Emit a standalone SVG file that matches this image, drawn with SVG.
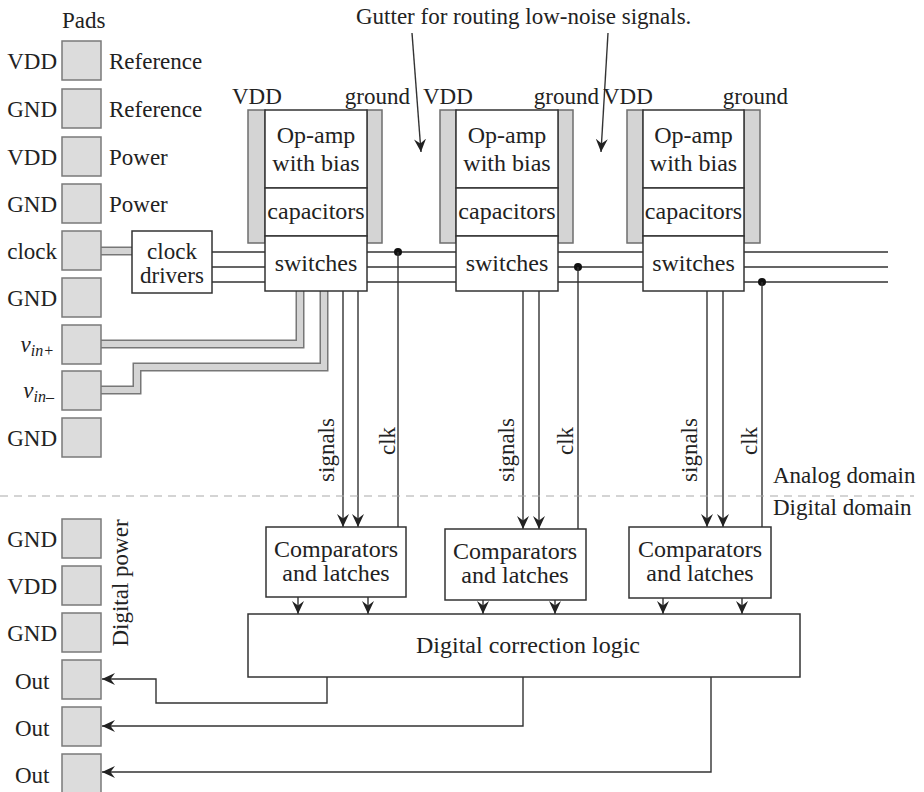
<svg xmlns="http://www.w3.org/2000/svg" width="924" height="792" viewBox="0 0 924 792">
<defs>
<style>
text{font-family:"Liberation Serif","Times New Roman",serif;font-size:23px;fill:#222}
.m{font-size:24px}
.pad{fill:#dcdcdc;stroke:#7a7a7a;stroke-width:1.5}
.bar{fill:#d4d4d4;stroke:#6e6e6e;stroke-width:1.5}
.box{fill:#fff;stroke:#333;stroke-width:1.5}
.ln{fill:none;stroke:#333;stroke-width:1.4}
.busO{fill:none;stroke:#777;stroke-width:9;stroke-linejoin:miter}
.busI{fill:none;stroke:#d4d4d4;stroke-width:6;stroke-linejoin:miter}
.arr{marker-end:url(#ah)}
</style>
<marker id="ah" markerUnits="userSpaceOnUse" markerWidth="16" markerHeight="14" refX="13" refY="7" orient="auto">
<path d="M0,1 L13,7 L0,13 L4.5,7 z" fill="#222"/>
</marker>
</defs>
<rect width="924" height="792" fill="#fff"/>

<!-- connectors -->
<g id="connectors">
  <!-- clock lines -->
  <path class="ln" d="M212,252 H888 M212,267 H888 M212,282 H888"/>
  <!-- pad to clock drivers bus -->
  <path class="busO" d="M101,251 H132"/>
  <path class="busI" d="M101,251 H132"/>
  <!-- vin buses -->
  <path class="busO" d="M101,344 H300 V291"/>
  <path class="busI" d="M101,344 H300 V291"/>
  <path class="busO" d="M101,390 H137 V367 H324 V291"/>
  <path class="busI" d="M101,390 H137 V367 H324 V291"/>
  <!-- clk taps -->
  <circle cx="398" cy="252" r="4" fill="#111"/>
  <circle cx="578" cy="267" r="4" fill="#111"/>
  <circle cx="762" cy="282" r="4" fill="#111"/>
  <path class="ln" d="M398,252 V527 M578,267 V529 M762,282 V527"/>
  <!-- signals -->
  <path class="ln arr" d="M343,291 V527"/>
  <path class="ln arr" d="M358,291 V527"/>
  <path class="ln arr" d="M523,291 V529"/>
  <path class="ln arr" d="M539,291 V529"/>
  <path class="ln arr" d="M707,291 V527"/>
  <path class="ln arr" d="M723,291 V527"/>
  <!-- comparators to DCL -->
  <path class="ln arr" d="M298,597 V614"/>
  <path class="ln arr" d="M368,597 V614"/>
  <path class="ln arr" d="M483,600 V614"/>
  <path class="ln arr" d="M555,600 V614"/>
  <path class="ln arr" d="M663,598 V614"/>
  <path class="ln arr" d="M742,598 V614"/>
  <!-- outputs -->
  <path class="ln arr" d="M327,677 V703 H156 V679 H102"/>
  <path class="ln arr" d="M523,677 V726 H102"/>
  <path class="ln arr" d="M711,677 V772 H102"/>
  <!-- gutter arrows -->
  <path class="ln arr" d="M412,33 L421,152"/>
  <path class="ln arr" d="M608,33 L601,152"/>
  <!-- domain divider -->
  <path d="M0,496 H914" fill="none" stroke="#aaa" stroke-width="1.2" stroke-dasharray="8 6"/>
</g>

<!-- labels -->
<g id="labels">
  <text x="62" y="28">Pads</text>
  <text x="356" y="24">Gutter for routing low-noise signals.</text>
  <text x="773" y="483">Analog domain</text>
  <text x="773" y="515">Digital domain</text>
  <text transform="translate(128,583) rotate(-90)" text-anchor="middle">Digital power</text>
  <text transform="translate(334,450) rotate(-90)" text-anchor="middle">signals</text>
  <text transform="translate(395,441) rotate(-90)" text-anchor="middle">clk</text>
  <text transform="translate(514,450) rotate(-90)" text-anchor="middle">signals</text>
  <text transform="translate(573,441) rotate(-90)" text-anchor="middle">clk</text>
  <text transform="translate(697,450) rotate(-90)" text-anchor="middle">signals</text>
  <text transform="translate(757,441) rotate(-90)" text-anchor="middle">clk</text>
</g>

<!-- pads -->
<g id="pad-vdd-ref"><rect class="pad" x="62" y="41" width="39" height="39"/><text x="57" y="69" text-anchor="end">VDD</text><text x="109" y="69">Reference</text></g>
<g id="pad-gnd-ref"><rect class="pad" x="62" y="89" width="39" height="39"/><text x="57" y="117" text-anchor="end">GND</text><text x="109" y="117">Reference</text></g>
<g id="pad-vdd-pwr"><rect class="pad" x="62" y="137" width="39" height="39"/><text x="57" y="165" text-anchor="end">VDD</text><text x="109" y="165">Power</text></g>
<g id="pad-gnd-pwr"><rect class="pad" x="62" y="184" width="39" height="39"/><text x="57" y="212" text-anchor="end">GND</text><text x="109" y="212">Power</text></g>
<g id="pad-clock"><rect class="pad" x="62" y="231" width="39" height="39"/><text x="57" y="259" text-anchor="end">clock</text></g>
<g id="pad-gnd1"><rect class="pad" x="62" y="278" width="39" height="39"/><text x="57" y="306" text-anchor="end">GND</text></g>
<g id="pad-vinp"><rect class="pad" x="62" y="325" width="39" height="39"/><text x="54" y="352" text-anchor="end" font-style="italic">v<tspan font-size="16" dy="4">in+</tspan></text></g>
<g id="pad-vinm"><rect class="pad" x="62" y="371" width="39" height="39"/><text x="54" y="398" text-anchor="end" font-style="italic">v<tspan font-size="16" dy="4">in–</tspan></text></g>
<g id="pad-gnd2"><rect class="pad" x="62" y="418" width="39" height="39"/><text x="57" y="446" text-anchor="end">GND</text></g>
<g id="pad-dgnd1"><rect class="pad" x="62" y="519" width="39" height="39"/><text x="57" y="547" text-anchor="end">GND</text></g>
<g id="pad-dvdd"><rect class="pad" x="62" y="566" width="39" height="39"/><text x="57" y="594" text-anchor="end">VDD</text></g>
<g id="pad-dgnd2"><rect class="pad" x="62" y="613" width="39" height="39"/><text x="57" y="641" text-anchor="end">GND</text></g>
<g id="pad-out1"><rect class="pad" x="62" y="660" width="39" height="39"/><text x="15" y="689">Out</text></g>
<g id="pad-out2"><rect class="pad" x="62" y="707" width="39" height="39"/><text x="15" y="736">Out</text></g>
<g id="pad-out3"><rect class="pad" x="62" y="754" width="39" height="39"/><text x="15" y="783">Out</text></g>

<!-- clock drivers -->
<g id="clock-drivers"><rect class="box" x="132" y="231" width="80" height="62"/><text x="172" y="259" text-anchor="middle">clock</text><text x="172" y="283" text-anchor="middle">drivers</text></g>

<!-- module 1 -->
<g id="module1">
  <text x="232" y="104">VDD</text><text x="410" y="104" text-anchor="end">ground</text>
  <rect class="bar" x="248" y="110" width="17" height="133"/>
  <rect class="bar" x="367" y="110" width="15" height="133"/>
  <rect class="box" x="265" y="110" width="102" height="78"/>
  <rect class="box" x="265" y="188" width="102" height="48"/>
  <rect class="box" x="265" y="236" width="102" height="55"/>
  <text class="m" x="316" y="143" text-anchor="middle">Op-amp</text>
  <text class="m" x="316" y="171" text-anchor="middle">with bias</text>
  <text class="m" x="316" y="219" text-anchor="middle">capacitors</text>
  <text class="m" x="316" y="271" text-anchor="middle">switches</text>
</g>
<!-- module 2 -->
<g id="module2">
  <text x="423" y="104">VDD</text><text x="599" y="104" text-anchor="end">ground</text>
  <rect class="bar" x="440" y="110" width="16" height="133"/>
  <rect class="bar" x="558" y="110" width="15" height="133"/>
  <rect class="box" x="456" y="110" width="102" height="78"/>
  <rect class="box" x="456" y="188" width="102" height="48"/>
  <rect class="box" x="456" y="236" width="102" height="55"/>
  <text class="m" x="507" y="143" text-anchor="middle">Op-amp</text>
  <text class="m" x="507" y="171" text-anchor="middle">with bias</text>
  <text class="m" x="507" y="219" text-anchor="middle">capacitors</text>
  <text class="m" x="507" y="271" text-anchor="middle">switches</text>
</g>
<!-- module 3 -->
<g id="module3">
  <text x="603" y="104">VDD</text><text x="788" y="104" text-anchor="end">ground</text>
  <rect class="bar" x="627" y="110" width="16" height="133"/>
  <rect class="bar" x="744" y="110" width="16" height="133"/>
  <rect class="box" x="643" y="110" width="101" height="78"/>
  <rect class="box" x="643" y="188" width="101" height="48"/>
  <rect class="box" x="643" y="236" width="101" height="55"/>
  <text class="m" x="693.5" y="143" text-anchor="middle">Op-amp</text>
  <text class="m" x="693.5" y="171" text-anchor="middle">with bias</text>
  <text class="m" x="693.5" y="219" text-anchor="middle">capacitors</text>
  <text class="m" x="693.5" y="271" text-anchor="middle">switches</text>
</g>

<!-- comparators -->
<g id="comp1"><rect class="box" x="266" y="527" width="140" height="70"/><text class="m" x="336" y="557" text-anchor="middle">Comparators</text><text class="m" x="336" y="581" text-anchor="middle">and latches</text></g>
<g id="comp2"><rect class="box" x="445" y="529" width="141" height="71"/><text class="m" x="515" y="559" text-anchor="middle">Comparators</text><text class="m" x="515" y="583" text-anchor="middle">and latches</text></g>
<g id="comp3"><rect class="box" x="629" y="527" width="142" height="71"/><text class="m" x="700" y="557" text-anchor="middle">Comparators</text><text class="m" x="700" y="581" text-anchor="middle">and latches</text></g>

<!-- digital correction logic -->
<g id="dcl"><rect class="box" x="248" y="614" width="552" height="63"/><text class="m" x="528" y="653" text-anchor="middle">Digital correction logic</text></g>
</svg>
